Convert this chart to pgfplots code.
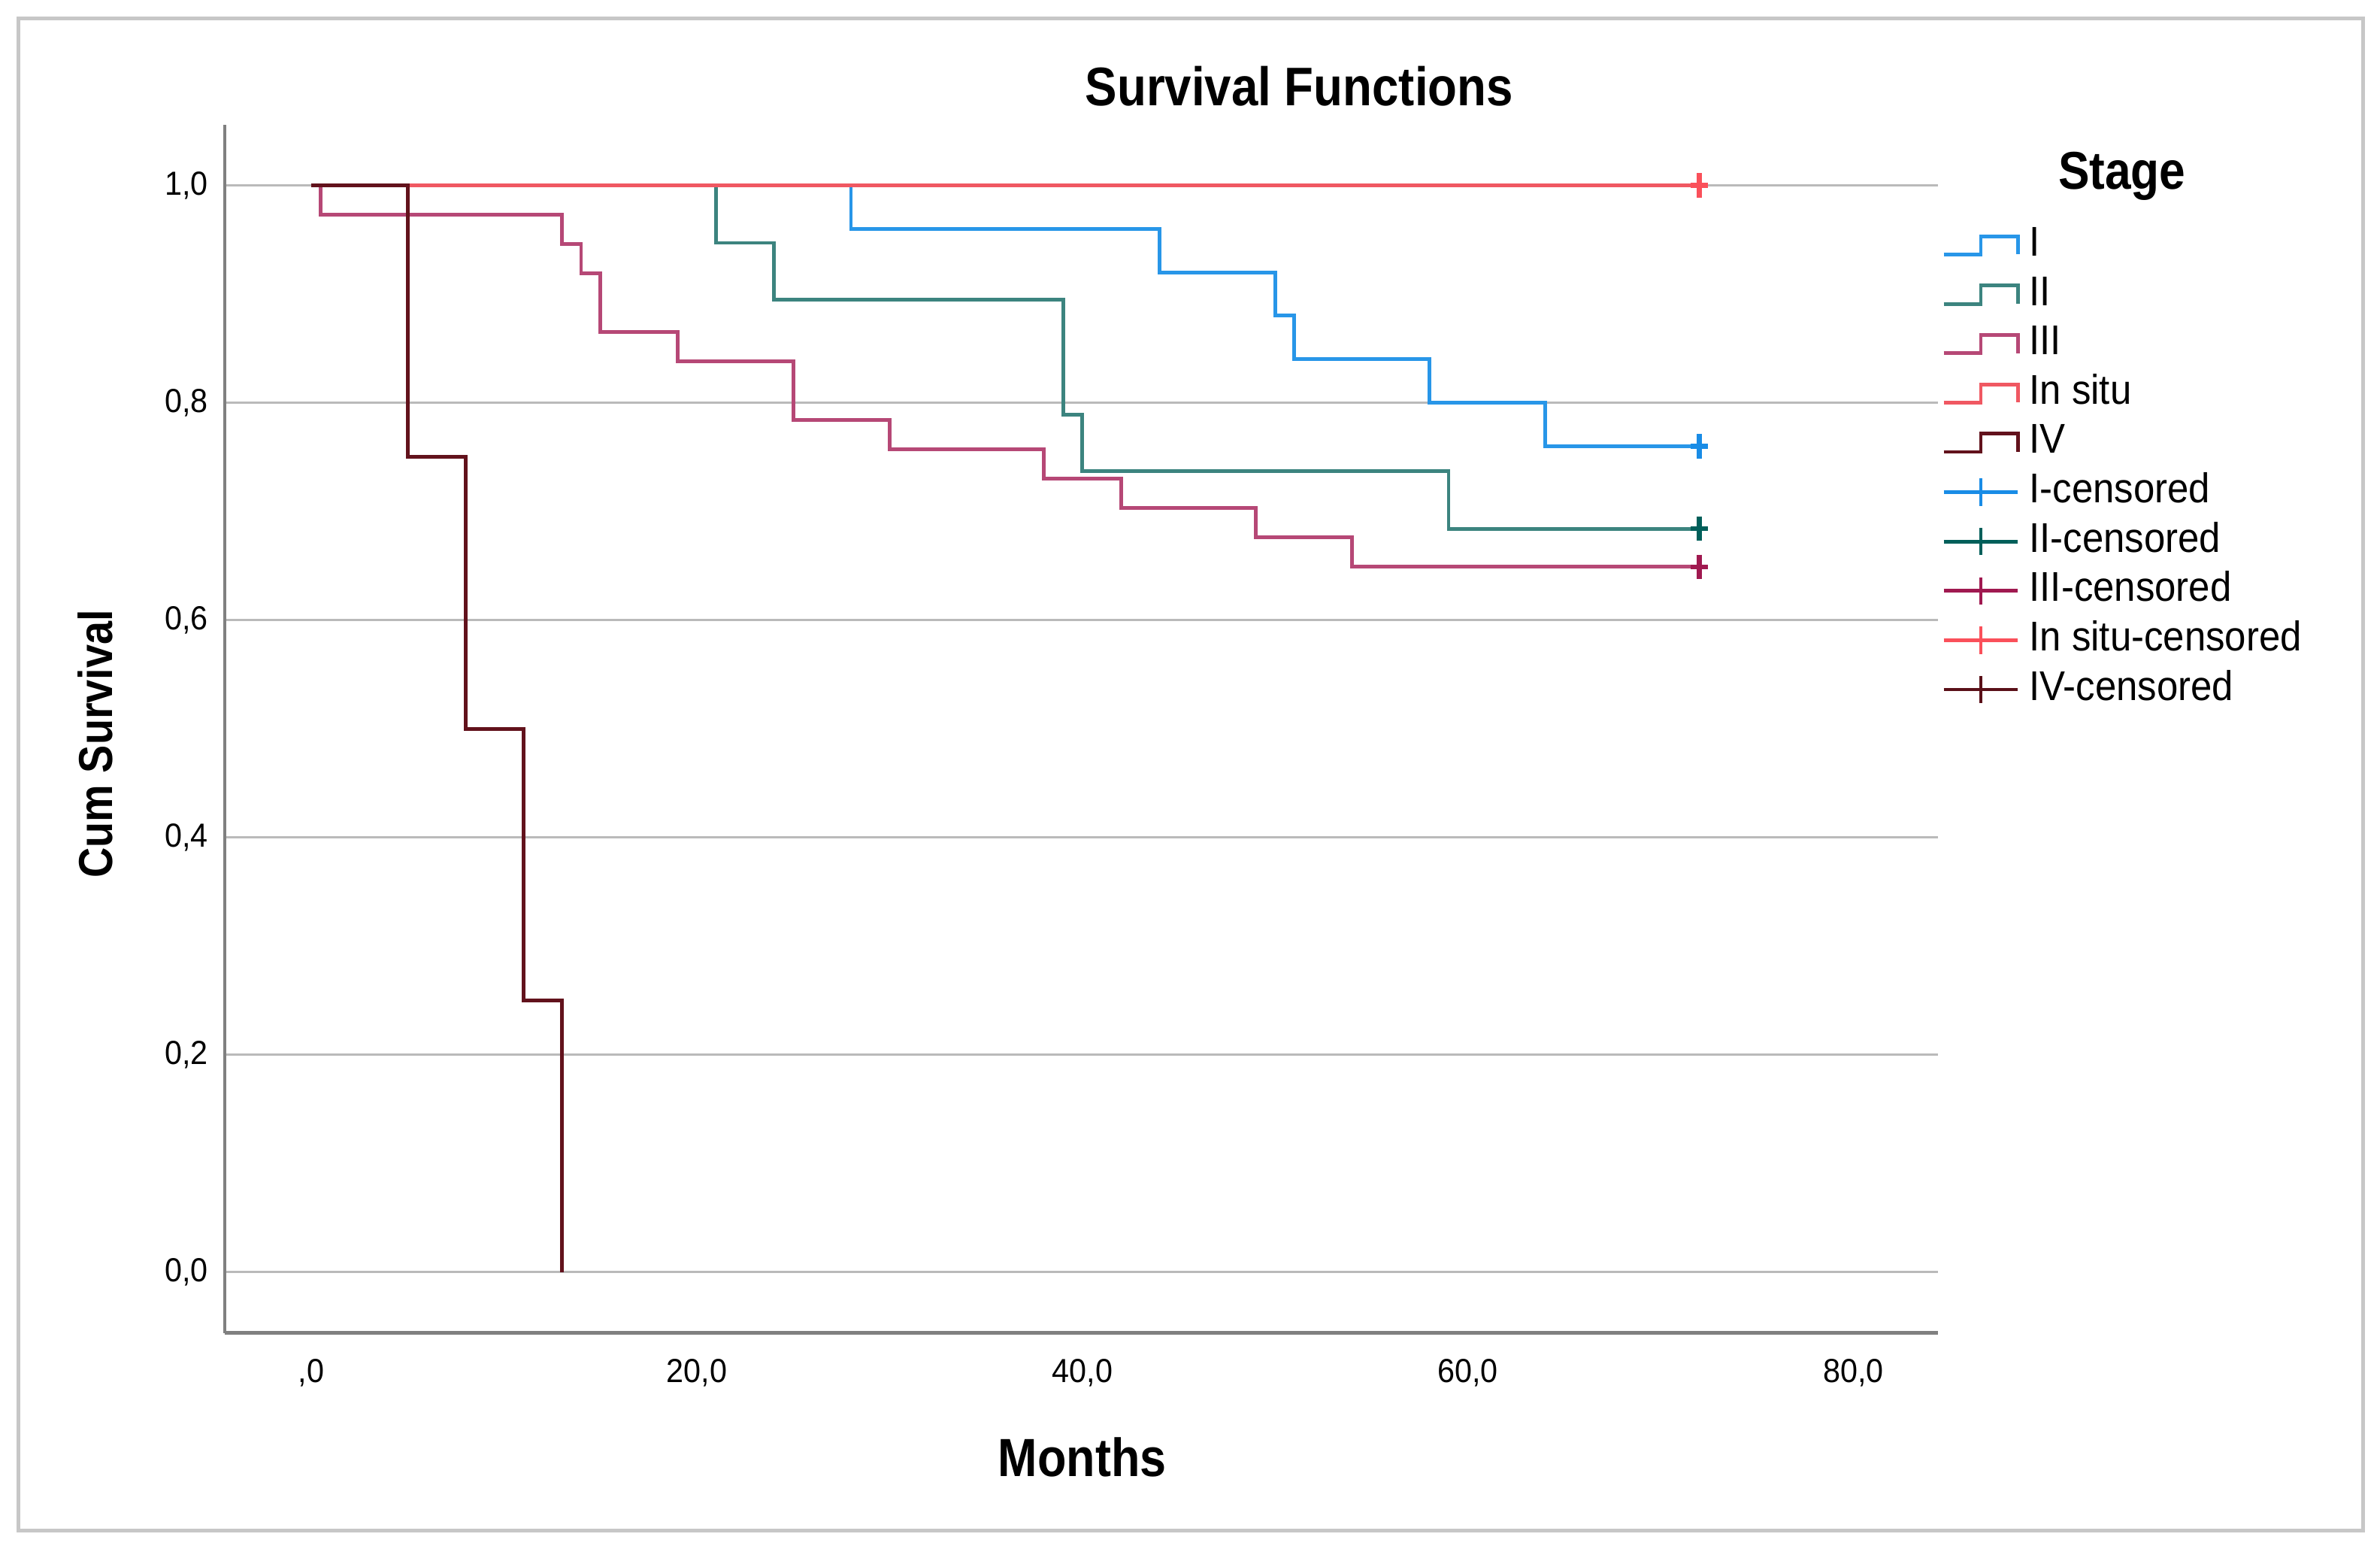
\documentclass[border=0pt]{standalone}
\usepackage{pgfplots}
\pgfplotsset{compat=1.18}
\usepackage{fontspec}
\setmainfont{Liberation Sans}
\newfontfamily\ticksfont[FakeStretch=0.93]{Liberation Sans}
\newfontfamily\legfont[FakeStretch=0.92]{Liberation Sans}
\newfontfamily\headfont[FakeStretch=0.88]{Liberation Sans}

\definecolor{stI}{RGB}{40,150,232}
\definecolor{stII}{RGB}{60,132,127}
\definecolor{stIII}{RGB}{182,72,118}
\definecolor{stIS}{RGB}{240,88,98}
\definecolor{stIV}{RGB}{98,18,28}
\definecolor{cI}{RGB}{25,140,230}
\definecolor{cII}{RGB}{0,95,90}
\definecolor{cIII}{RGB}{160,25,80}
\definecolor{cIS}{RGB}{250,80,90}
\definecolor{cIV}{RGB}{90,16,24}

\pgfplotsset{
  km step/.style={legend image code/.code={
      \draw[##1,line width=1.2pt] (0pt,-3pt) -- (12.2pt,-3pt) -- (12.2pt,3pt) -- (24.4pt,3pt) -- (24.4pt,-3pt);}},
  km cens/.style={legend image code/.code={
      \draw[##1,line width=1.2pt] (0pt,0pt) -- (24.4pt,0pt);
      \draw[##1,line width=1.2pt] (12.2pt,-4.5pt) -- (12.2pt,4.5pt);}},
  cens/.style={only marks, mark=+, mark size=4pt,
      mark options={xscale=0.7, line width=1.6pt}, forget plot},
  km/.style={const plot, line width=1.2pt, forget plot},
}

\begin{document}
\begin{tikzpicture}
\begin{axis}[
    at={(0,0)}, anchor=south west,
    scale only axis,
    width=564.5pt, height=398pt,
    xmin=-4.49, xmax=84.4,
    ymin=-0.056, ymax=1.056,
    axis x line*=bottom, axis y line*=left,
    x axis line style={-, draw=black!50, line width=1.3pt},
    y axis line style={-, draw=black!50, line width=1pt},
    xtick={0,20,40,60,80},
    xticklabels={{,0},{20,0},{40,0},{60,0},{80,0}},
    ytick={0,0.2,0.4,0.6,0.8,1},
    yticklabels={{0,0},{0,2},{0,4},{0,6},{0,8},{1,0}},
    major tick length=0pt,
    tick label style={font=\ticksfont\fontsize{11}{13}\selectfont},
    xticklabel style={yshift=-5pt},
    yticklabel style={xshift=-2pt},
    ymajorgrids,
    grid style={line width=0.8pt, draw=black!27},
    clip=false,
    legend style={at={(1,1)}, anchor=north west, xshift=1pt, yshift=-31.5pt,
        draw=none, fill=none, inner sep=0pt,
        font=\legfont\fontsize{13.7}{15}\selectfont,
        nodes={inner xsep=0pt, inner ysep=1.625pt, text height=10pt, text depth=3pt},
        /tikz/every odd column/.append style={column sep=3.2pt}},
    legend cell align=left,
]
% Stage I
\addplot[km, stI] coordinates {
    (0,1) (28,0.96) (44,0.92) (50,0.88) (51,0.84) (58,0.80) (64,0.76) (72,0.76)};
% Stage II
\addplot[km, stII] coordinates {
    (0,1) (21,0.947) (24,0.895) (39,0.789) (40,0.737) (59,0.684) (72,0.684)};
% Stage III
\addplot[km, stIII] coordinates {
    (0,1) (0.5,0.973) (13,0.946) (14,0.919) (15,0.865) (19,0.838) (25,0.784)
    (30,0.757) (38,0.730) (42,0.703) (49,0.676) (54,0.649) (72,0.649)};
% In situ
\addplot[km, stIS] coordinates {
    (0,1) (72,1)};
% Stage IV
\addplot[km, stIV] coordinates {
    (0,1) (5,0.75) (8,0.5) (11,0.25) (13,0)};
% censored
\addplot[cens, cI] coordinates {(72,0.76)};
\addplot[cens, cII] coordinates {(72,0.684)};
\addplot[cens, cIII] coordinates {(72,0.649)};
\addplot[cens, cIS] coordinates {(72,1)};

\addlegendimage{km step, stI}      \addlegendentry{I}
\addlegendimage{km step, stII}     \addlegendentry{II}
\addlegendimage{km step, stIII}    \addlegendentry{III}
\addlegendimage{km step, stIS}     \addlegendentry{In situ}
\addlegendimage{km step, stIV}     \addlegendentry{IV}
\addlegendimage{km cens, cI}       \addlegendentry{I-censored}
\addlegendimage{km cens, cII}      \addlegendentry{II-censored}
\addlegendimage{km cens, cIII}     \addlegendentry{III-censored}
\addlegendimage{km cens, cIS}      \addlegendentry{In situ-censored}
\addlegendimage{km cens, cIV}      \addlegendentry{IV-censored}
\end{axis}

\node[font=\headfont\bfseries\fontsize{17.9}{20}\selectfont] at (354pt,410.5pt) {Survival Functions};
\node[font=\headfont\bfseries\fontsize{17.7}{20}\selectfont] at (282.5pt,-41pt) {Months};
\node[font=\headfont\bfseries\fontsize{15.7}{18}\selectfont, rotate=90] at (-42.5pt,194pt) {Cum Survival};
\node[font=\headfont\bfseries\fontsize{17.5}{20}\selectfont] at (625pt,381pt) {Stage};

\draw[black!22, line width=1.3pt] (-68pt,-65pt) rectangle (704.5pt,433pt);
\pgfresetboundingbox
\path (-74pt,-71pt) rectangle (710pt,439pt);
\end{tikzpicture}
\end{document}
